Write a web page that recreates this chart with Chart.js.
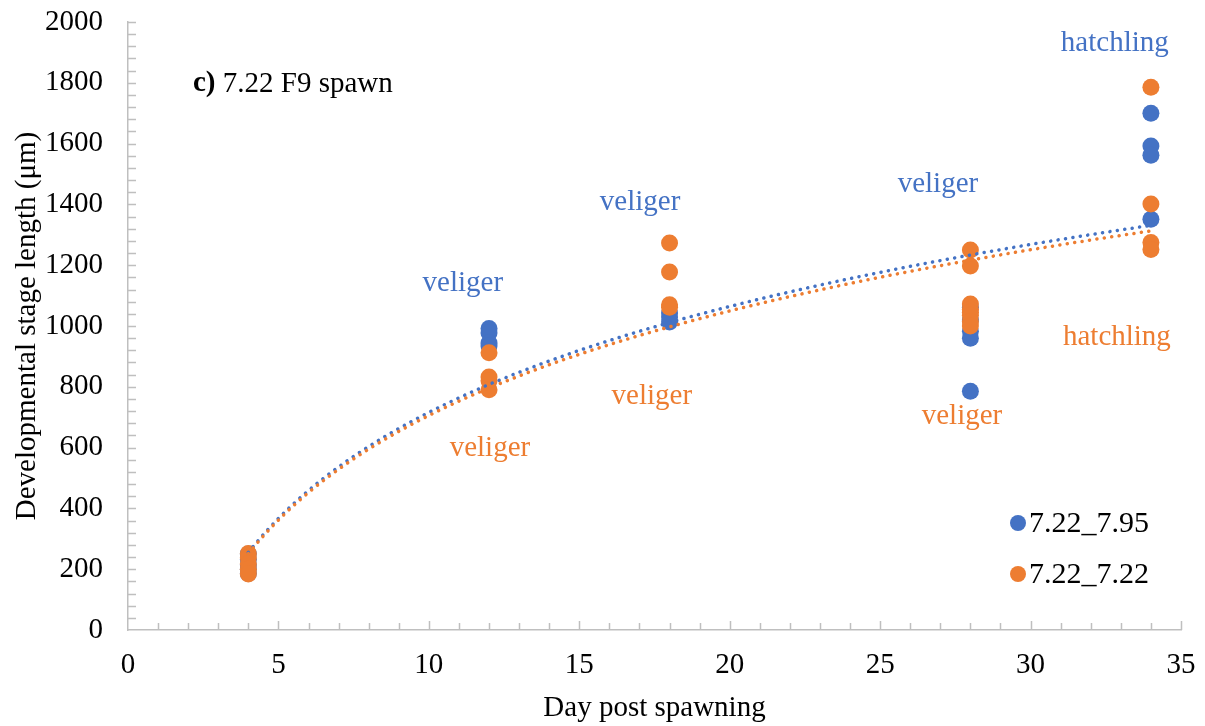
<!DOCTYPE html>
<html>
<head>
<meta charset="utf-8">
<script src="https://cdn.jsdelivr.net/npm/chart.js@4.4.0/dist/chart.umd.min.js"></script>
<style>
  html, body { margin: 0; padding: 0; background: #fff; }
  #wrap { width: 1205px; height: 726px; }
</style>
</head>
<body>
<div id="wrap"><canvas id="myChart" width="1205" height="726"></canvas></div>
<script>
// Data (overlapping markers in the clusters are guessed)
const days = [4, 12, 18, 28, 34];
const seriesNames = ["7.22_7.95", "7.22_7.22"];
const blueLengths = [
    [250, 232, 215, 200, 186],
    [992, 977, 944, 934],
    [1043, 1030, 1013],
    [1062, 1020, 983, 960, 785],
    [1700, 1592, 1562, 1351]
];
const orangeLengths = [
    [252, 238, 218, 200, 184],
    [912, 832, 820, 790],
    [1273, 1178, 1070, 1062],
    [1250, 1197, 1072, 1055, 1045, 1035, 1015, 1000],
    [1785, 1401, 1275, 1252]
];
const xTicks = [0, 5, 10, 15, 20, 25, 30, 35];
const yTicks = [0, 200, 400, 600, 800, 1000, 1200, 1400, 1600, 1800, 2000];

// stage labels, placed in data units
const stageLabels = [
    { text: "veliger", x: 11.13, y: 1141, c: "blue" },
    { text: "veliger", x: 12.03, y: 599, c: "orange" },
    { text: "veliger", x: 17.02, y: 1405, c: "blue" },
    { text: "veliger", x: 17.41, y: 770, c: "orange" },
    { text: "veliger", x: 26.92, y: 1467, c: "blue" },
    { text: "veliger", x: 27.72, y: 704, c: "orange" },
    { text: "hatchling", x: 32.80, y: 1931, c: "blue" },
    { text: "hatchling", x: 32.87, y: 961, c: "orange" }
];

const BLUE = '#4472C4';
const ORANGE = '#ED7D31';
const AXIS = '#BFBFBF';
const FONT = "'Liberation Serif', 'Times New Roman', serif";

const toPoints = (lists) => {
    const pts = [];
    lists.forEach((vals, i) => vals.forEach(v => pts.push({ x: days[i], y: v })));
    return pts;
};

// logarithmic trendline (least squares on ln x), like the spreadsheet one
const logTrend = (pts) => {
    const n = pts.length;
    let sl = 0, sy = 0, sll = 0, sly = 0;
    pts.forEach(p => {
        const l = Math.log(p.x);
        sl += l; sy += p.y; sll += l * l; sly += l * p.y;
    });
    const a = (n * sly - sl * sy) / (n * sll - sl * sl);
    const b = (sy - a * sl) / n;
    const xs = pts.map(p => p.x);
    const lo = Math.min(...xs), hi = Math.max(...xs);
    const line = [];
    for (let x = lo; x <= hi + 1e-9; x += 0.25) line.push({ x: x, y: a * Math.log(x) + b });
    return line;
};

const bluePts = toPoints(blueLengths);
const orangePts = toPoints(orangeLengths);

const trendStyle = (color) => ({
    showLine: true,
    pointRadius: 0,
    borderColor: color,
    borderWidth: 3.5,
    borderDash: [0.1, 7.4],
    borderCapStyle: 'round',
    fill: false
});

// tick marks point into the plot, so draw them here
const innerTicks = {
    id: 'innerTicks',
    afterDraw(chart) {
        const c = chart.ctx;
        const xs = chart.scales.x, ys = chart.scales.y;
        c.save();
        c.strokeStyle = AXIS;
        c.lineWidth = 1.5;
        c.beginPath();
        for (let v = 1; v <= 35; v++) {
            const px = Math.round(xs.getPixelForValue(v)) + 0.5;
            const len = v % 5 === 0 ? 9 : 7;
            c.moveTo(px, xs.top);
            c.lineTo(px, xs.top - len);
        }
        for (let v = 40; v <= 2000; v += 40) {
            const py = Math.round(ys.getPixelForValue(v)) + 0.5;
            c.moveTo(ys.right, py);
            c.lineTo(ys.right + 8, py);
        }
        c.stroke();

        // stage labels
        c.font = '29px ' + FONT;
        c.textAlign = 'center';
        c.textBaseline = 'middle';
        stageLabels.forEach(s => {
            c.fillStyle = s.c === 'blue' ? BLUE : ORANGE;
            c.fillText(s.text, xs.getPixelForValue(s.x), ys.getPixelForValue(s.y));
        });

        // panel title
        c.fillStyle = '#000';
        c.textAlign = 'left';
        c.font = 'bold 29px ' + FONT;
        c.fillText('c)', 193, 84);
        const w = c.measureText('c)').width;
        c.font = '29px ' + FONT;
        c.fillText(' 7.22 F9 spawn', 193 + w, 84);

        // legend
        const rows = [[BLUE, seriesNames[0], 523], [ORANGE, seriesNames[1], 574]];
        c.font = '30px ' + FONT;
        rows.forEach(r => {
            c.fillStyle = r[0];
            c.beginPath();
            c.arc(1018, r[2], 8, 0, Math.PI * 2);
            c.fill();
            c.fillStyle = '#000';
            c.fillText(r[1], 1029, r[2] + 1);
        });
        c.restore();
    }
};

const ctx = document.getElementById("myChart").getContext("2d");
new Chart(ctx, {
    type: 'scatter',
    data: {
        datasets: [
            Object.assign({ label: 'trend ' + seriesNames[1], data: logTrend(orangePts) }, trendStyle(ORANGE)),
            Object.assign({ label: 'trend ' + seriesNames[0], data: logTrend(bluePts) }, trendStyle(BLUE)),
            {
                label: seriesNames[1],
                data: orangePts,
                backgroundColor: ORANGE,
                borderColor: ORANGE,
                borderWidth: 0,
                pointRadius: 8.5
            },
            {
                label: seriesNames[0],
                data: bluePts,
                backgroundColor: BLUE,
                borderColor: BLUE,
                borderWidth: 0,
                pointRadius: 8.5
            }
        ]
    },
    options: {
        responsive: false,
        animation: false,
        layout: { padding: { top: 22, right: 24, left: 0, bottom: 0 } },
        plugins: {
            legend: { display: false },
            tooltip: { enabled: false }
        },
        scales: {
            x: {
                type: 'linear',
                min: 0,
                max: 35,
                afterFit: (s) => { s.height = 96; s.paddingLeft = 0; s.paddingRight = 0; },
                afterBuildTicks: (s) => { s.ticks = xTicks.map(v => ({ value: v })); },
                grid: { display: false, drawTicks: false },
                border: { display: true, color: AXIS, width: 1.5 },
                ticks: { color: '#000', font: { family: FONT, size: 29 }, padding: 18, maxRotation: 0, callback: v => String(v) },
                title: {
                    display: true,
                    text: 'Day post spawning',
                    color: '#000',
                    font: { family: FONT, size: 29 },
                    padding: { top: 0, bottom: 0 }
                }
            },
            y: {
                min: 0,
                max: 2000,
                afterFit: (s) => { s.width = 128; s.paddingTop = 0; s.paddingBottom = 0; },
                afterBuildTicks: (s) => { s.ticks = yTicks.map(v => ({ value: v })); },
                grid: { display: false, drawTicks: false },
                border: { display: true, color: AXIS, width: 1.5 },
                ticks: { color: '#000', font: { family: FONT, size: 29 }, padding: 25, callback: v => String(v) },
                title: {
                    display: true,
                    text: 'Developmental stage length (μm)',
                    color: '#000',
                    font: { family: FONT, size: 29 },
                    padding: { top: 10, bottom: 0 }
                }
            }
        }
    },
    plugins: [innerTicks]
});
</script>
</body>
</html>
